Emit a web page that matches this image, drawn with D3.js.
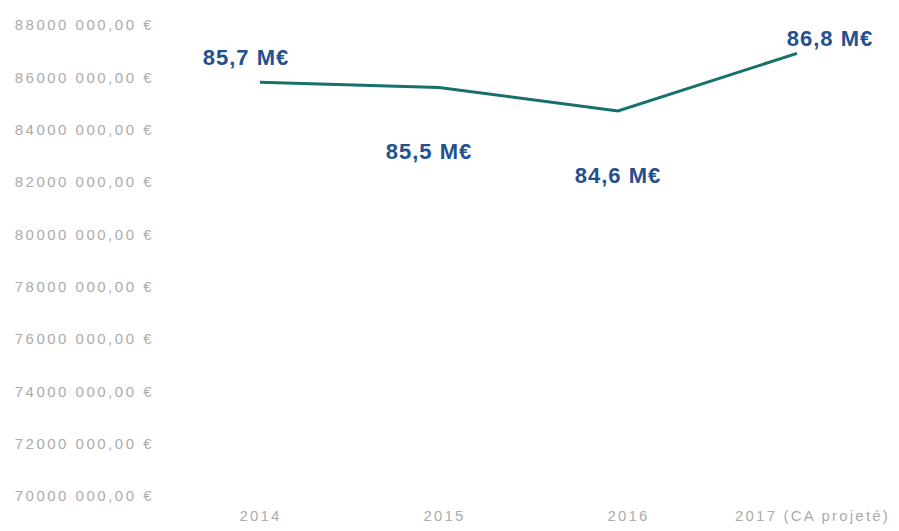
<!DOCTYPE html>
<html>
<head>
<meta charset="utf-8">
<script src="https://cdn.jsdelivr.net/npm/d3@7"></script>
<style>
  body { margin: 0; background: #fff; }
  .tick text { font-family: "Liberation Sans", Arial, sans-serif; fill: #acacac; }
  .valueLabel { font-family: "Liberation Sans", Arial, sans-serif; font-weight: bold; fill: #25508e; }
</style>
</head>
<body>
<script>
// chiffre d'affaires par année
var years = ["2014", "2015", "2016", "2017 (CA projeté)"];
var revenue = [85700000, 85500000, 84600000, 86800000];
var valueLabels = ["85,7 M€", "85,5 M€", "84,6 M€", "86,8 M€"];
var yTicks = [70000000, 72000000, 74000000, 76000000, 78000000, 80000000, 82000000, 84000000, 86000000, 88000000];

// label placement around each point (layout only)
var labelDx = [-14, -10, 0, 33],
    labelDy = [-25, 64, 65, -15];

var width = 899, height = 531;

var svg = d3.select("body").append("svg")
    .attr("width", width)
    .attr("height", height);

var x = d3.scalePoint()
    .domain(years)
    .range([260, 797]);

var y = d3.scaleLinear()
    .domain([70000000, 88000000])
    .range([493, 22]);

// "88000 000,00 €" style
function fmt(v){
    var s = String(v);
    return s.slice(0, -3) + " " + s.slice(-3) + ",00 €";
}

var yAxis = svg.append("g")
    .attr("transform", "translate(154,3)")
    .call(d3.axisLeft(y).tickValues(yTicks).tickFormat(fmt).tickSize(0).tickPadding(0));
yAxis.select(".domain").remove();
yAxis.selectAll("text")
    .style("font-size", "15px")
    .style("letter-spacing", "2.5px");

var xAxis = svg.append("g")
    .attr("transform", "translate(0,510)")
    .call(d3.axisBottom(x).tickSize(0).tickPadding(0));
xAxis.select(".domain").remove();
xAxis.selectAll("text")
    .style("font-size", "15px")
    .style("letter-spacing", "2.2px")
    .attr("dx", function(d, i){ return i * 5; });

var line = d3.line()
    .x(function(d, i){ return x(years[i]); })
    .y(function(d){ return y(d); });

svg.append("path")
    .datum(revenue)
    .attr("fill", "none")
    .attr("stroke", "#17706b")
    .attr("stroke-width", 3)
    .attr("d", line);

svg.selectAll(".valueLabel")
    .data(revenue)
    .enter()
    .append("text")
    .attr("class", "valueLabel")
    .attr("x", function(d, i){ return x(years[i]) + labelDx[i]; })
    .attr("y", function(d, i){ return y(d) + labelDy[i]; })
    .attr("text-anchor", "middle")
    .attr("dominant-baseline", "central")
    .style("font-size", "22px")
    .style("letter-spacing", "1px")
    .text(function(d, i){ return valueLabels[i]; });
</script>
</body>
</html>
